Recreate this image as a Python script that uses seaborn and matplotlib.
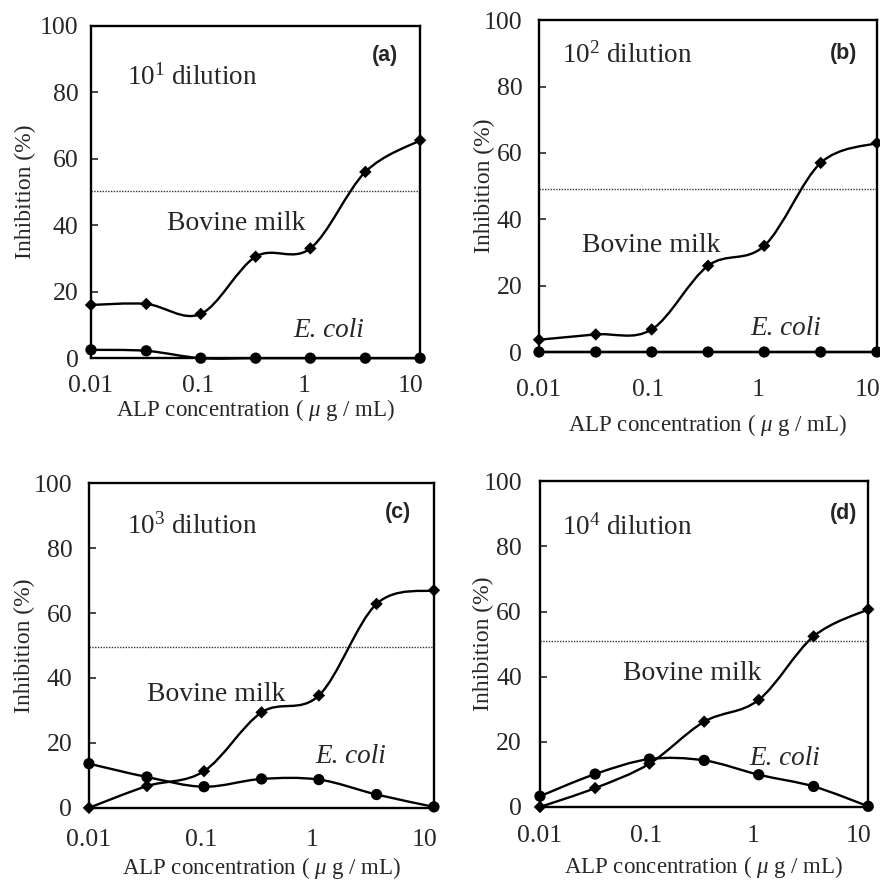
import numpy as np
import pandas as pd
import matplotlib
matplotlib.use("Agg")
import matplotlib.pyplot as plt
from matplotlib.path import Path
from matplotlib.patches import PathPatch
import seaborn as sns

# --- data ---
ALP_CONC = [0.01, 0.033, 0.107, 0.35, 1.14, 3.74, 12.2]  # ug/mL

BOVINE_A = [16.0, 16.3, 13.3, 30.5, 33.0, 56.0, 65.5]
ECOLI_A = [2.5, 2.2, 0.0, 0.0, 0.0, 0.0, 0.0]
BOVINE_B = [3.7, 5.3, 6.8, 26.0, 32.0, 57.0, 63.0]
ECOLI_B = [0.0, 0.0, 0.0, 0.0, 0.0, 0.0, 0.0]
BOVINE_C = [0.0, 6.7, 11.3, 29.4, 34.6, 62.8, 67.0]
ECOLI_C = [13.6, 9.5, 6.5, 8.9, 8.7, 4.1, 0.3]
BOVINE_D = [0.0, 5.8, 13.3, 26.2, 32.9, 52.4, 60.7]
ECOLI_D = [3.3, 10.1, 14.7, 14.3, 9.9, 6.3, 0.2]

HALF_LINE = [50.3, 49.0, 49.4, 50.9]
PANEL_TAGS = ["(a)", "(b)", "(c)", "(d)"]
DILUTION_EXP = ["1", "2", "3", "4"]
X_TICKS = [0.01, 0.1, 1, 10]
X_TICKLABELS = ["0.01", "0.1", "1", "10"]
Y_TICKS = [0, 20, 40, 60, 80, 100]

BOVINE = [BOVINE_A, BOVINE_B, BOVINE_C, BOVINE_D]
ECOLI = [ECOLI_A, ECOLI_B, ECOLI_C, ECOLI_D]

# axes rectangles (figure fraction) and label positions (axes fraction)
RECTS = [
    [0.1034, 0.593, 0.374, 0.378],
    [0.6125, 0.600, 0.384, 0.377],
    [0.1011, 0.082, 0.392, 0.369],
    [0.6136, 0.083, 0.373, 0.370],
]
DIL_POS = [(0.11, 0.844), (0.068, 0.895), (0.11, 0.868), (0.067, 0.86)]
TAG_POS = [(0.894, 0.91), (0.90, 0.90), (0.896, 0.91), (0.924, 0.90)]
BOV_POS = [(0.23, 0.405), (0.127, 0.322), (0.168, 0.348), (0.253, 0.41)]
ECO_POS = [(0.614, 0.084), (0.624, 0.072), (0.655, 0.157), (0.637, 0.15)]
# per-panel paddings (points): x tick, x label, y tick, y label
XTICK_PAD = [12.4, 19.6, 15.3, 13.2]
XLABEL_PAD = [0.0, 7.8, 3.0, 4.5]
YTICK_PAD = [9, 12, 12, 13]
YLABEL_PAD = [3.0, -8.0, -1.0, -8.0]

sns.set_style("ticks")
plt.rcParams["font.family"] = ["Liberation Serif", "DejaVu Serif"]
plt.rcParams["mathtext.fontset"] = "custom"
plt.rcParams["mathtext.rm"] = "Liberation Serif"
plt.rcParams["mathtext.it"] = "Liberation Serif:italic"


def smooth_path(xs, ys):
    """Excel-style smoothed line: Catmull-Rom -> cubic Bezier in log-x space."""
    lx = np.log10(xs)
    ys = np.asarray(ys, dtype=float)
    n = len(lx)
    verts = [(xs[0], ys[0])]
    codes = [Path.MOVETO]
    for i in range(n - 1):
        i0 = max(i - 1, 0)
        i3 = min(i + 2, n - 1)
        c1x = lx[i] + (lx[i + 1] - lx[i0]) / 6
        c1y = ys[i] + (ys[i + 1] - ys[i0]) / 6
        c2x = lx[i + 1] - (lx[i3] - lx[i]) / 6
        c2y = ys[i + 1] - (ys[i3] - ys[i]) / 6
        verts += [(10 ** c1x, c1y), (10 ** c2x, c2y), (xs[i + 1], ys[i + 1])]
        codes += [Path.CURVE4] * 3
    return Path(verts, codes)


fig = plt.figure(figsize=(8.8, 8.8), dpi=100)

for k in range(4):
    ax = fig.add_axes(RECTS[k])
    df = pd.DataFrame({
        "conc": ALP_CONC * 2,
        "inhibition": BOVINE[k] + ECOLI[k],
        "source": ["Bovine milk"] * 7 + ["E. coli"] * 7,
    })

    for src in ["Bovine milk", "E. coli"]:
        sub = df[df["source"] == src]
        patch = PathPatch(smooth_path(sub["conc"].values, sub["inhibition"].values),
                          facecolor="none", edgecolor="black", lw=1.7,
                          transform=ax.transData, clip_on=False, zorder=3)
        ax.add_patch(patch)

    sns.scatterplot(data=df, x="conc", y="inhibition", style="source",
                    markers={"Bovine milk": "D", "E. coli": "o"},
                    size="source", sizes={"Bovine milk": 40, "E. coli": 66},
                    color="black", edgecolor="black", linewidth=0,
                    legend=False, clip_on=False, zorder=4, ax=ax)

    ax.axhline(HALF_LINE[k], color="#333333", lw=1.0, ls=(0, (1, 1)), zorder=2)

    ax.set_xscale("log")
    ax.set_xlim(ALP_CONC[0], ALP_CONC[-1])
    ax.set_ylim(0, 100)
    ax.set_xticks(X_TICKS)
    ax.set_xticklabels(X_TICKLABELS)
    ax.xaxis.set_minor_locator(matplotlib.ticker.NullLocator())
    ax.set_yticks(Y_TICKS)
    ax.tick_params(axis="x", length=0, pad=XTICK_PAD[k], labelsize=18.5)
    ax.tick_params(axis="y", direction="in", length=5, width=1.2,
                   pad=YTICK_PAD[k], labelsize=18.5)
    for sp in ax.spines.values():
        sp.set_visible(True)
        sp.set_linewidth(1.7)
        sp.set_color("black")

    ax.set_xlabel("ALP concentration ( $\\mu$ g / mL)", fontsize=16.5,
                  labelpad=XLABEL_PAD[k])
    ax.set_ylabel("Inhibition (%)", fontsize=17, labelpad=YLABEL_PAD[k])

    ax.text(*DIL_POS[k], f"$\\mathregular{{10^{DILUTION_EXP[k]}}}$ dilution",
            transform=ax.transAxes, fontsize=19.5, va="center", ha="left")
    ax.text(*TAG_POS[k], PANEL_TAGS[k], transform=ax.transAxes, fontsize=15.5,
            fontweight="bold", family="Liberation Sans", va="center", ha="center")
    ax.text(*BOV_POS[k], "Bovine milk", transform=ax.transAxes, fontsize=20,
            va="center", ha="left")
    ax.text(*ECO_POS[k], "E. coli", transform=ax.transAxes, fontsize=19.5,
            style="italic", va="center", ha="left")

fig.savefig("out.png", dpi=100)
